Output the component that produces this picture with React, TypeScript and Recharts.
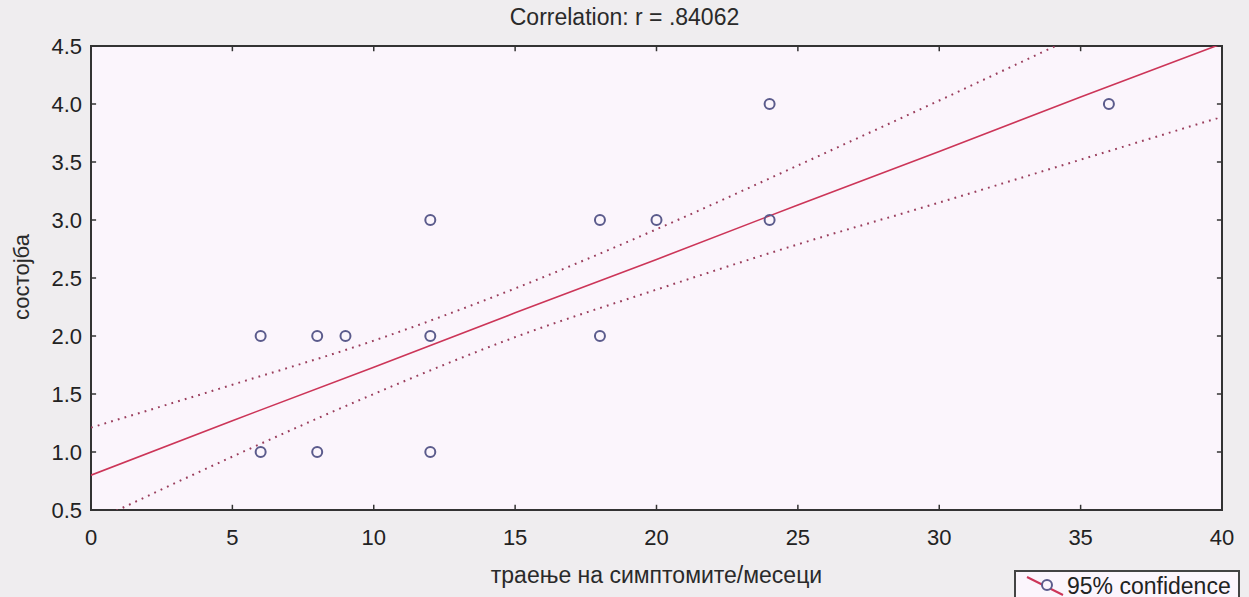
import React from "react";
import {
  ComposedChart,
  Line,
  Scatter,
  XAxis,
  YAxis,
  ReferenceArea,
  ReferenceLine,
} from "recharts";

// observed cases: symptom duration (months) vs condition score
const durationMonths = [6, 8, 12, 6, 8, 9, 12, 18, 12, 18, 20, 24, 24, 36];
const conditionScore = [1, 1, 1, 2, 2, 2, 2, 2, 3, 3, 3, 3, 4, 4];

// regression line and 95% confidence bands
const fitX = [0, 5, 10, 15, 20, 25, 30, 35, 40];
const fitY = [0.8, 1.27, 1.73, 2.2, 2.66, 3.13, 3.59, 4.06, 4.52];
const upperBand = [1.21, 1.58, 1.96, 2.41, 2.92, 3.47, 4.03, 4.6, 5.15];
const lowerBand = [0.39, 0.96, 1.5, 1.99, 2.4, 2.79, 3.15, 3.52, 3.89];

const xTicks = [0, 5, 10, 15, 20, 25, 30, 35, 40];
const yTicks = [0.5, 1.0, 1.5, 2.0, 2.5, 3.0, 3.5, 4.0, 4.5];

const points = durationMonths.map((x, i) => ({ x, y: conditionScore[i] }));
const bandData = fitX.map((x, i) => ({
  x,
  fit: fitY[i],
  upper: upperBand[i],
  lower: lowerBand[i],
}));

const X_MIN = 0;
const X_MAX = 40;
const Y_MIN = 0.5;
const Y_MAX = 4.5;
// inward tick length, in axis units (~5px)
const TX = 0.18;
const TY = 0.045;

const FONT = '"Liberation Sans", Arial, sans-serif';
const AXIS = "#333";
const tickStyle = { fontSize: 22, fill: "#222", fontFamily: FONT };

const Ring = (props: any) => (
  <circle
    cx={props.cx}
    cy={props.cy}
    r={5}
    fill="none"
    stroke="#5b5b8c"
    strokeWidth={2}
  />
);

export default function App() {
  return (
    <div
      style={{
        position: "absolute",
        left: 0,
        top: 0,
        width: 1249,
        height: 597,
        background: "#efedef",
        fontFamily: FONT,
        overflow: "hidden",
      }}
    >
      <div
        style={{
          position: "absolute",
          left: 0,
          top: 4,
          width: 1249,
          textAlign: "center",
          fontSize: 23,
          color: "#2a2a2a",
        }}
      >
        Correlation: r = .84062
      </div>

      <ComposedChart
        width={1249}
        height={597}
        data={bandData}
        margin={{ top: 46, right: 27, bottom: 37, left: 31 }}
      >
        <XAxis
          dataKey="x"
          type="number"
          domain={[X_MIN, X_MAX]}
          ticks={xTicks}
          allowDataOverflow
          axisLine={false}
          tickLine={false}
          tickSize={0}
          tickMargin={19}
          tick={tickStyle}
          height={50}
        />
        <YAxis
          type="number"
          domain={[Y_MIN, Y_MAX]}
          ticks={yTicks}
          allowDataOverflow
          tickFormatter={(v: number) => v.toFixed(1)}
          axisLine={false}
          tickLine={false}
          tickSize={0}
          tickMargin={9}
          tick={tickStyle}
          width={60}
        />
        <ReferenceArea
          x1={X_MIN}
          x2={X_MAX}
          y1={Y_MIN}
          y2={Y_MAX}
          fill="#fbf5fc"
          fillOpacity={1}
          stroke="none"
        />
        {xTicks.map((t) => (
          <ReferenceLine
            key={"xb" + t}
            segment={[{ x: t, y: Y_MIN }, { x: t, y: Y_MIN + TY }]}
            stroke={AXIS}
            strokeWidth={1.5}
          />
        ))}
        {xTicks.map((t) => (
          <ReferenceLine
            key={"xt" + t}
            segment={[{ x: t, y: Y_MAX }, { x: t, y: Y_MAX - TY }]}
            stroke={AXIS}
            strokeWidth={1.5}
          />
        ))}
        {yTicks.map((t) => (
          <ReferenceLine
            key={"yl" + t}
            segment={[{ x: X_MIN, y: t }, { x: X_MIN + TX, y: t }]}
            stroke={AXIS}
            strokeWidth={1.5}
          />
        ))}
        {yTicks.map((t) => (
          <ReferenceLine
            key={"yr" + t}
            segment={[{ x: X_MAX, y: t }, { x: X_MAX - TX, y: t }]}
            stroke={AXIS}
            strokeWidth={1.5}
          />
        ))}
        <Line
          dataKey="upper"
          type="monotone"
          stroke="#9a3d5c"
          strokeWidth={2}
          strokeDasharray="1.8 5.2"
          dot={false}
          activeDot={false}
          isAnimationActive={false}
        />
        <Line
          dataKey="lower"
          type="monotone"
          stroke="#9a3d5c"
          strokeWidth={2}
          strokeDasharray="1.8 5.2"
          dot={false}
          activeDot={false}
          isAnimationActive={false}
        />
        <Line
          dataKey="fit"
          type="linear"
          stroke="#cc3558"
          strokeWidth={1.6}
          dot={false}
          activeDot={false}
          isAnimationActive={false}
        />
        <Scatter
          data={points}
          dataKey="y"
          shape={Ring}
          isAnimationActive={false}
        />
        {/* plot frame on top */}
        <ReferenceArea
          x1={X_MIN}
          x2={X_MAX}
          y1={Y_MIN}
          y2={Y_MAX}
          fill="none"
          stroke={AXIS}
          strokeWidth={2}
          strokeOpacity={1}
        />
      </ComposedChart>

      <div
        style={{
          position: "absolute",
          left: 22,
          top: 277,
          transform: "translate(-50%, -50%) rotate(-90deg)",
          fontSize: 22,
          color: "#2a2a2a",
          whiteSpace: "nowrap",
        }}
      >
        состојба
      </div>

      <div
        style={{
          position: "absolute",
          left: 91,
          width: 1131,
          top: 562,
          textAlign: "center",
          fontSize: 23,
          color: "#2a2a2a",
        }}
      >
        траење на симптомите/месеци
      </div>

      <div
        style={{
          position: "absolute",
          left: 1014,
          top: 570,
          width: 226,
          height: 32,
          border: "2px solid #444",
          background: "#fbf5fc",
          boxSizing: "border-box",
          display: "flex",
          alignItems: "center",
          fontSize: 23,
          color: "#222",
        }}
      >
        <svg width={46} height={26} style={{ marginLeft: 3 }}>
          <line x1={8} y1={4} x2={44} y2={22} stroke="#cc3558" strokeWidth={2} />
          <circle cx={28} cy={12} r={5} fill="#fbf5fc" stroke="#5b5b8c" strokeWidth={2} />
        </svg>
        <span style={{ marginLeft: 2 }}>95% confidence</span>
      </div>
    </div>
  );
}
